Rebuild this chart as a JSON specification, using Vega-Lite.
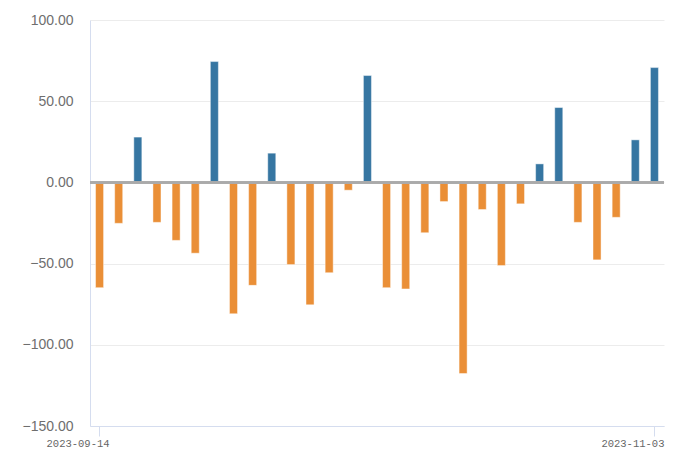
{
  "$schema": "https://vega.github.io/schema/vega-lite/v6.json",
  "autosize": "none",
  "width": 574,
  "height": 406,
  "padding": {"left": 90, "top": 20, "right": 19, "bottom": 32},
  "background": "#ffffff",
  "config": {"view": {"stroke": null}},
  "data": {
    "values": [
      {"date": "2023-09-14", "v": -64.8},
      {"date": "2023-09-15", "v": -25.2},
      {"date": "2023-09-18", "v": 27.9},
      {"date": "2023-09-19", "v": -24.6},
      {"date": "2023-09-20", "v": -35.7},
      {"date": "2023-09-21", "v": -43.6},
      {"date": "2023-09-22", "v": 74.4},
      {"date": "2023-09-25", "v": -80.9},
      {"date": "2023-09-26", "v": -63.4},
      {"date": "2023-09-27", "v": 18.0},
      {"date": "2023-09-28", "v": -50.6},
      {"date": "2023-10-09", "v": -75.4},
      {"date": "2023-10-10", "v": -55.6},
      {"date": "2023-10-11", "v": -4.8},
      {"date": "2023-10-12", "v": 65.8},
      {"date": "2023-10-13", "v": -64.8},
      {"date": "2023-10-16", "v": -65.6},
      {"date": "2023-10-17", "v": -31.0},
      {"date": "2023-10-18", "v": -11.8},
      {"date": "2023-10-19", "v": -117.7},
      {"date": "2023-10-20", "v": -16.7},
      {"date": "2023-10-24", "v": -51.2},
      {"date": "2023-10-25", "v": -13.2},
      {"date": "2023-10-26", "v": 11.4},
      {"date": "2023-10-27", "v": 46.1},
      {"date": "2023-10-30", "v": -24.6},
      {"date": "2023-10-31", "v": -47.7},
      {"date": "2023-11-01", "v": -21.5},
      {"date": "2023-11-02", "v": 26.2},
      {"date": "2023-11-03", "v": 70.7}
    ]
  },
  "encoding": {
    "x": {
      "field": "date",
      "type": "ordinal",
      "sort": null,
      "scale": {"paddingInner": 0.58, "paddingOuter": 0.29},
      "axis": {
        "title": null,
        "values": ["2023-09-14", "2023-11-03"],
        "labelAngle": 0,
        "labelAlign": "right",
        "labelOffset": 10,
        "labelBaseline": "top",
        "labelPadding": 2,
        "labelFont": "Liberation Mono",
        "labelFontSize": 10.5,
        "labelColor": "#666666",
        "tickSize": 10,
        "tickColor": "#d5ddef",
        "domainColor": "#d5ddef",
        "grid": false
      }
    }
  },
  "layer": [
    {
      "mark": {"type": "bar", "strokeWidth": 1, "stroke": "#ffffff", "strokeOpacity": 0.45},
      "encoding": {
        "y": {
          "field": "v",
          "type": "quantitative",
          "scale": {"domain": [-150, 100], "nice": false},
          "axis": {
            "title": null,
            "values": [-150, -100, -50, 0, 50, 100],
            "format": ".2f",
            "labelFont": "Liberation Sans",
            "labelFontSize": 14,
            "labelColor": "#6e6e6e",
            "labelPadding": 17,
            "ticks": false,
            "tickSize": 0,
            "domainColor": "#d5ddef",
            "gridColor": "#ececec",
            "gridWidth": 1
          }
        },
        "color": {
          "condition": {"test": "datum.v > 0", "value": "#3676a2"},
          "value": "#ea8f37"
        }
      }
    },
    {
      "mark": {"type": "rule", "color": "#aaaaaa", "strokeWidth": 1.5},
      "encoding": {"y": {"datum": 0, "type": "quantitative"}, "x": null}
    }
  ]
}
